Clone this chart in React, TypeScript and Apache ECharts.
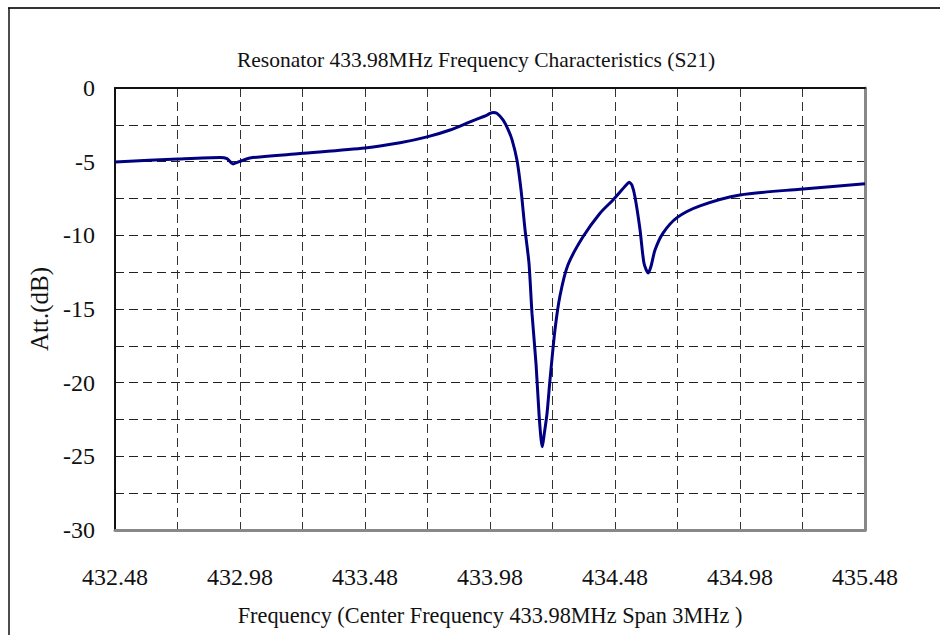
import React, { useEffect, useRef } from "react";
import * as echarts from "echarts";

const TITLE = "Resonator 433.98MHz Frequency Characteristics (S21)";
const X_NAME = "Frequency (Center Frequency 433.98MHz Span 3MHz )";
const Y_NAME = "Att.(dB)";
const F_START = 432.48;
const F_SPAN = 3;

const freqMHz = [
  432.48, 432.732, 432.9, 432.928, 432.952, 432.98, 433.02, 433.22, 433.48, 433.62,
  433.732, 433.82, 433.9, 433.96, 433.992, 434.008, 434.032, 434.052, 434.068, 434.088,
  434.104, 434.12, 434.136, 434.148, 434.164, 434.176, 434.184, 434.189, 434.196, 434.208,
  434.22, 434.24, 434.26, 434.292, 434.352, 434.42, 434.472, 434.524, 434.537, 434.548,
  434.56, 434.58, 434.596, 434.613, 434.624, 434.64, 434.672, 434.728, 434.82, 434.98,
  435.22, 435.48,
];
const attDb = [
  -5.02, -4.82, -4.72, -4.8, -5.15, -4.98, -4.75, -4.45, -4.07, -3.72,
  -3.3, -2.85, -2.3, -1.9, -1.67, -1.72, -2.17, -2.8, -3.5, -4.9,
  -6.9, -9.6, -11.9, -15.3, -18.7, -22.1, -23.8, -24.35, -23.6, -22.1,
  -19.8, -16.4, -14.1, -12.0, -10.1, -8.5, -7.6, -6.6, -6.4, -6.6,
  -7.4, -9.6, -11.9, -12.56, -12.1, -11.0, -9.85, -8.8, -8.0, -7.26,
  -6.87, -6.5,
];

const FONT = "Liberation Serif";

export default function App() {
  const ref = useRef<HTMLDivElement>(null);
  useEffect(() => {
    if (!ref.current) return;
    const chart = echarts.init(ref.current, undefined, { renderer: "svg" });
    const data = freqMHz.map((f, i) => [f - F_START, attDb[i]]);
    const dash = { type: [9, 5] as any, color: "#222", width: 1 };
    chart.setOption({
      animation: false,
      backgroundColor: "#fff",
      textStyle: { fontFamily: FONT, color: "#111" },
      title: {
        text: TITLE,
        left: 471,
        textAlign: "center",
        top: 44,
        textStyle: { fontFamily: FONT, fontSize: 21.5, fontWeight: "normal", color: "#111" },
      },
      grid: { left: 115, right: 75, top: 88, bottom: 105 },
      xAxis: [
        {
          type: "value",
          min: 0,
          max: F_SPAN,
          interval: 0.25,
          position: "bottom",
          name: X_NAME,
          nameLocation: "middle",
          nameGap: 74,
          nameTextStyle: { fontFamily: FONT, fontSize: 22.3, color: "#111" },
          axisLine: { show: true, onZero: false, lineStyle: { color: "#888", width: 3 } },
          axisTick: { show: false },
          axisLabel: {
            margin: 35,
            fontFamily: FONT,
            fontSize: 24,
            color: "#111",
            formatter: (v: number) => {
              const k = Math.round(v / 0.25);
              return k % 2 === 0 ? (F_START + v).toFixed(2) : "";
            },
          },
          splitLine: { show: true, lineStyle: { ...dash, color: "#333" } },
        },
        {
          type: "value",
          min: 0,
          max: F_SPAN,
          position: "top",
          axisLine: { show: true, onZero: false, lineStyle: { color: "#111", width: 2 } },
          axisTick: { show: false },
          axisLabel: { show: false },
          splitLine: { show: false },
        },
      ],
      yAxis: [
        {
          type: "value",
          min: -30,
          max: 0,
          interval: 2.5,
          position: "left",
          name: Y_NAME,
          nameLocation: "middle",
          nameGap: 60,
          nameTextStyle: { fontFamily: FONT, fontSize: 25, color: "#111" },
          axisLine: { show: true, onZero: false, lineStyle: { color: "#111", width: 2 } },
          axisTick: { show: false },
          axisLabel: {
            margin: 20,
            fontFamily: FONT,
            fontSize: 24,
            color: "#111",
            formatter: (v: number) => {
              const k = Math.round(v / 2.5);
              return k % 2 === 0 ? String(Math.round(v)) : "";
            },
          },
          splitLine: { show: true, lineStyle: dash },
        },
        {
          type: "value",
          min: -30,
          max: 0,
          position: "right",
          axisLine: { show: true, onZero: false, lineStyle: { color: "#888", width: 3 } },
          axisTick: { show: false },
          axisLabel: { show: false },
          splitLine: { show: false },
        },
      ],
      graphic: [
        { type: "line", shape: { x1: 8, y1: 8, x2: 940, y2: 8 }, style: { stroke: "#333", lineWidth: 2 } },
        { type: "line", shape: { x1: 9, y1: 8, x2: 9, y2: 635 }, style: { stroke: "#111", lineWidth: 1.5 } },
      ],
      series: [
        {
          type: "line",
          data,
          xAxisIndex: 0,
          yAxisIndex: 0,
          showSymbol: false,
          smooth: 0.25,
          lineStyle: { color: "#000080", width: 3 },
        },
      ],
    });
    return () => chart.dispose();
  }, []);
  return <div ref={ref} style={{ width: 940, height: 635, position: "absolute", left: 0, top: 0 }} />;
}
